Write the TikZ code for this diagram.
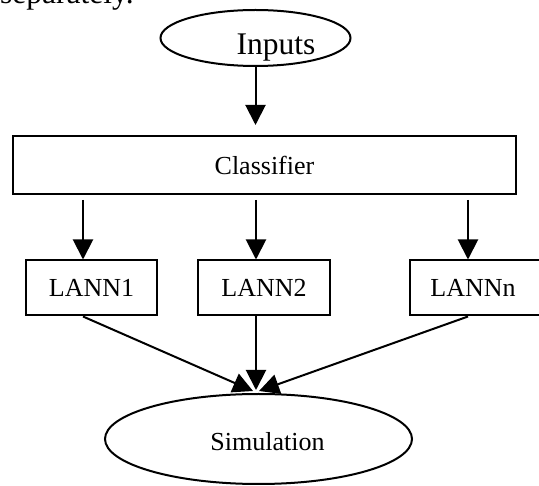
\documentclass[tikz,border=0pt]{standalone}
\usepackage{fontspec}
\setmainfont{Liberation Serif}
\usetikzlibrary{shapes.geometric,arrows.meta}
\begin{document}
\begin{tikzpicture}[x=1pt,y=-1pt,
  lab/.style={font=\fontsize{26}{30}\selectfont},
  big/.style={font=\fontsize{31.5}{36}\selectfont},
  box/.style={draw, line width=2pt, inner sep=0pt, lab},
  oval/.style={draw, ellipse, line width=2pt, inner sep=0pt},
  arr/.style={line width=2pt, -{Triangle[length=20pt,width=20pt]}}]
\clip (0,0) rectangle (539,486);
\node[anchor=base west, big, inner sep=0pt] (sep) at (0,4) {separately.};
% Inputs
\node[oval, minimum width=190pt, minimum height=56pt] (in) at (255.5,38) {};
\node[anchor=base, big, inner sep=0pt] (inlab) at (276,55) {Inputs};
% Classifier
\node[box, minimum width=503pt, minimum height=58pt] (cls) at (264.5,165) {Classifier};
% LANN boxes
\node[box, minimum width=131pt, minimum height=55pt] (l1) at (91.5,288) {LANN1};
\node[box, minimum width=132pt, minimum height=55pt] (l2) at (264,288) {LANN2};
\node[box, minimum width=131pt, minimum height=55pt, text width=127pt, align=center] (ln) at (475.5,288) {\hspace*{-5pt}LANNn};
% Simulation
\node[oval, minimum width=307pt, minimum height=90pt] (sim) at (258.5,439) {};
\node[anchor=base, lab, inner sep=0pt] (simlab) at (267.5,451) {Simulation};
% coordinates
\coordinate (a1) at (83,0);
\coordinate (a2) at (256,0);
\coordinate (a3) at (468,0);
\coordinate (t1) at (253,391);
\coordinate (t2) at (256,390);
\coordinate (t3) at (259,391);
% connectors
\draw[arr, shorten >=10pt] (in.south) -- (in.south |- cls.north);
\draw[arr, shorten <=5pt] (cls.south -| a1) -- (l1.north -| a1);
\draw[arr, shorten <=5pt] (cls.south -| a2) -- (l2.north -| a2);
\draw[arr, shorten <=5pt] (cls.south -| a3) -- (ln.north -| a3);
\draw[arr] (l1.south -| a1) -- (t1);
\draw[arr] (l2.south -| a2) -- (t2);
\draw[arr] (ln.south -| a3) -- (t3);
\end{tikzpicture}
\end{document}
